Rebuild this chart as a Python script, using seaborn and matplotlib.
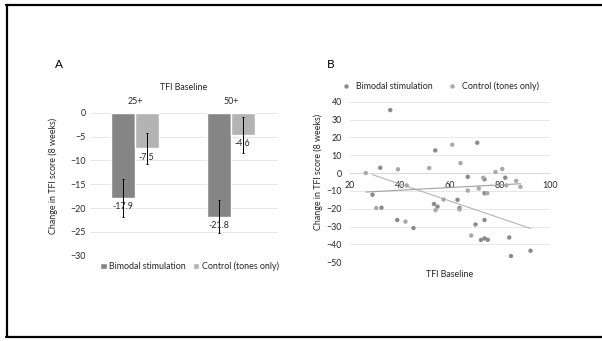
import pandas as pd
import matplotlib
matplotlib.use('Agg')
import matplotlib.pyplot as plt
import seaborn as sns
from matplotlib.lines import Line2D

# Panel A: mean change by baseline group
groups = ['25+', '50+']
series = ['Bimodal stimulation', 'Control (tones only)']
bimodal_change = [-17.9, -21.8]
control_change = [-7.5, -4.6]
bimodal_err = [3.9, 3.4]
control_err = [3.2, 3.8]

# Panel B: individual participants
bimodal_x = [36.1, 32.1, 54.1, 70.9, 67.1, 73.8, 82.1, 73.8, 29.0, 32.6, 53.6, 55.0,
             63.0, 63.8, 38.9, 45.4, 70.2, 73.8, 72.4, 73.8, 75.1, 83.7, 84.4, 92.2]
bimodal_y = [35.3, 3.0, 12.7, 17.0, -2.1, -3.5, -2.6, -11.3, -12.1, -19.4, -17.3, -18.8,
             -15.0, -19.5, -26.3, -30.8, -28.8, -26.3, -37.5, -36.6, -37.4, -36.1, -46.5, -43.5]
control_x = [26.3, 39.2, 51.7, 60.9, 64.2, 73.3, 78.2, 80.9, 82.5, 86.5, 88.2,
             71.5, 67.1, 74.9, 42.7, 30.5, 54.2, 57.4, 63.8, 42.2, 68.5]
control_y = [0.0, 2.1, 2.8, 15.9, 5.6, -2.6, 0.6, 2.3, -6.9, -4.4, -7.7,
             -8.6, -9.8, -11.3, -6.9, -19.6, -20.8, -14.8, -20.4, -27.2, -35.0]

DARK = '#858585'
LIGHT = '#b3b3b3'
TXT = '#262626'
GRID = '#e3e3e3'
FS = 6.4

sns.set_theme(style='white')
plt.rcParams['font.family'] = ['Lato', 'DejaVu Sans']
plt.rcParams['text.color'] = TXT
plt.rcParams['axes.labelcolor'] = TXT
plt.rcParams['xtick.color'] = TXT
plt.rcParams['ytick.color'] = TXT

W, H = 602, 341
fig = plt.figure(figsize=(W / 100, H / 100), dpi=100)
fig.patch.set_facecolor('white')

# outer frame (top, left, bottom)
for xs, ys in [([6, W], [5, 5]), ([7, 7], [5, 337]), ([6, W], [337, 337])]:
    fig.add_artist(Line2D([x / W for x in xs], [1 - y / H for y in ys],
                          color='black', lw=1.6, transform=fig.transFigure))

# ---------- A ----------
ax_a = fig.add_axes([90 / W, 1 - 255.7 / H, 188 / W, 143 / H])
bars = pd.DataFrame({
    'TFI Baseline': groups * 2,
    'Group': [series[0]] * 2 + [series[1]] * 2,
    'Change': bimodal_change + control_change,
})
sns.barplot(data=bars, x='TFI Baseline', y='Change', hue='Group', hue_order=series,
            palette=[DARK, LIGHT], width=0.5, errorbar=None, ax=ax_a, zorder=2)

for cont, errs in zip(ax_a.containers, [bimodal_err, control_err]):
    xs = [p.get_x() + p.get_width() / 2 for p in cont]
    hs = [p.get_height() for p in cont]
    ax_a.errorbar(xs, hs, yerr=errs, fmt='none', ecolor='black', elinewidth=0.7,
                  capsize=1, capthick=0.7, zorder=3)
    ax_a.bar_label(cont, fmt='%.1f', padding=3, fontsize=FS, color=TXT, zorder=4)

ax_a.set_ylim(-30, 0)
ax_a.set_yticks(range(-30, 1, 5))
ax_a.set_xlim(-0.466, 1.492)
ax_a.xaxis.tick_top()
ax_a.xaxis.set_label_position('top')
ax_a.set_xlabel('TFI Baseline', fontsize=FS, labelpad=5)
ax_a.set_ylabel('Change in TFI score (8 weeks)', fontsize=FS)
ax_a.yaxis.set_label_coords(-0.17, 0.557)
ax_a.tick_params(axis='both', length=0, labelsize=FS)
ax_a.tick_params(axis='x', pad=5)
ax_a.tick_params(axis='y', pad=3)
ax_a.yaxis.grid(True, color=GRID, lw=0.6, zorder=0)
ax_a.set_axisbelow(True)
for s in ax_a.spines.values():
    s.set_visible(False)
sns.move_legend(ax_a, 'center', bbox_to_anchor=(0.53, -0.072), ncol=2, frameon=False,
                title=None, fontsize=FS, handlelength=0.7, handleheight=0.7,
                columnspacing=0.8, handletextpad=0.3)

# ---------- B ----------
ax_b = fig.add_axes([350 / W, 1 - 262.3 / H, 200 / W, 160.6 / H])
pts = pd.DataFrame({
    'TFI Baseline': bimodal_x + control_x,
    'Change': bimodal_y + control_y,
    'Group': [series[0]] * len(bimodal_x) + [series[1]] * len(control_x),
})
sns.scatterplot(data=pts, x='TFI Baseline', y='Change', hue='Group', hue_order=series,
                palette=['#8a8a8a', '#a8a8a8'], s=10, linewidth=0, ax=ax_b, zorder=3)
sns.regplot(x=bimodal_x, y=bimodal_y, scatter=False, ci=None, truncate=True, ax=ax_b,
            line_kws={'color': '#b5b5b5', 'lw': 0.8, 'zorder': 2})
sns.regplot(x=control_x, y=control_y, scatter=False, ci=None, truncate=True, ax=ax_b,
            line_kws={'color': '#a0a0a0', 'lw': 0.8, 'zorder': 2})

ax_b.set_xlim(20, 100)
ax_b.set_ylim(-50, 40)
ax_b.set_xticks(range(20, 101, 20))
ax_b.set_yticks(range(-50, 41, 10))
ax_b.yaxis.grid(True, color=GRID, lw=0.6, zorder=0)
ax_b.xaxis.grid(False)
ax_b.set_axisbelow(True)
for k in ['top', 'right', 'left']:
    ax_b.spines[k].set_visible(False)
ax_b.spines['bottom'].set_position(('data', 0))
ax_b.spines['bottom'].set_color('#d6d6d6')
ax_b.spines['bottom'].set_linewidth(0.6)
ax_b.tick_params(axis='both', length=0, labelsize=FS)
ax_b.tick_params(axis='x', pad=6)
ax_b.tick_params(axis='y', pad=6)
ax_b.set_xlabel('TFI Baseline', fontsize=FS)
ax_b.xaxis.set_label_coords(0.5, -0.045)
ax_b.set_ylabel('Change in TFI score (8 weeks)', fontsize=FS)
ax_b.yaxis.set_label_coords(-0.135, 0.564)
sns.move_legend(ax_b, 'center', bbox_to_anchor=(0.44, 1.098), ncol=2, frameon=False,
                title=None, fontsize=FS, handletextpad=0.1, columnspacing=1.2,
                markerscale=1.0)

fig.text(55 / W, 1 - 64 / H, 'A', fontsize=8.5, va='center', color='black')
fig.text(327 / W, 1 - 65 / H, 'B', fontsize=8.5, va='center', color='black')

fig.savefig('out.png', dpi=100, facecolor='white')
